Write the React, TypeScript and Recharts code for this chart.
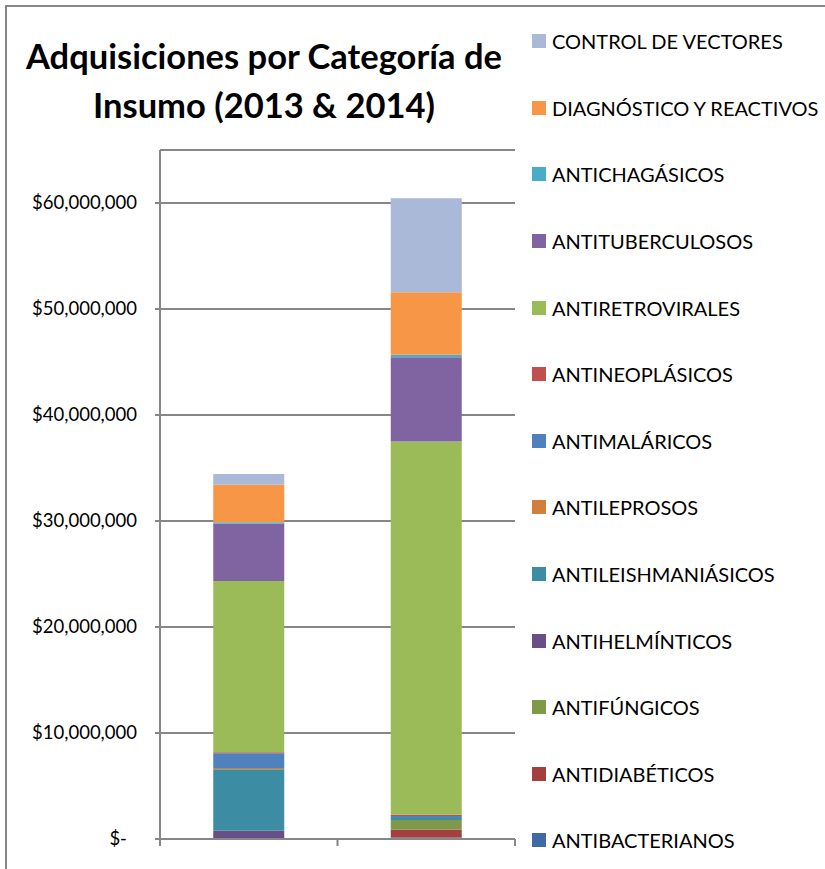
import React from "react";
import { BarChart, Bar, XAxis, YAxis, CartesianGrid } from "recharts";

const years = ["2013", "2014"];

// values in US$, bottom of the stack first
const antibacterianos = [0, 150000];
const antidiabeticos = [0, 750000];
const antifungicos = [0, 900000];
const antihelminticos = [780000, 0];
const antileishmaniasicos = [5800000, 180000];
const antileprosos = [120000, 0];
const antimalaricos = [1380000, 180000];
const antineoplasicos = [100000, 130000];
const antiretrovirales = [16150000, 35200000];
const antituberculosos = [5400000, 7950000];
const antichagasicos = [150000, 250000];
const diagnostico = [3550000, 5880000];
const controlVectores = [1000000, 8870000];

const yTicks = [0, 10000000, 20000000, 30000000, 40000000, 50000000, 60000000];
// category boundaries on the x axis (tick marks between the bars)
const edgeTicks = [0, 1, 2];

const series = [
  { name: "ANTIBACTERIANOS", values: antibacterianos, color: "#3F6AA3" },
  { name: "ANTIDIABÉTICOS", values: antidiabeticos, color: "#A33F3C" },
  { name: "ANTIFÚNGICOS", values: antifungicos, color: "#7E9A48" },
  { name: "ANTIHELMÍNTICOS", values: antihelminticos, color: "#684F86" },
  { name: "ANTILEISHMANIÁSICOS", values: antileishmaniasicos, color: "#3C8DA3" },
  { name: "ANTILEPROSOS", values: antileprosos, color: "#D0803B" },
  { name: "ANTIMALÁRICOS", values: antimalaricos, color: "#4F81BD" },
  { name: "ANTINEOPLÁSICOS", values: antineoplasicos, color: "#C0504D" },
  { name: "ANTIRETROVIRALES", values: antiretrovirales, color: "#9BBB59" },
  { name: "ANTITUBERCULOSOS", values: antituberculosos, color: "#8064A2" },
  { name: "ANTICHAGÁSICOS", values: antichagasicos, color: "#4BACC6" },
  { name: "DIAGNÓSTICO Y REACTIVOS", values: diagnostico, color: "#F79646" },
  { name: "CONTROL DE VECTORES", values: controlVectores, color: "#A9B9D7" },
];

const data = years.map((year, i) => {
  const row: Record<string, string | number> = { year, edge: i + 0.5 };
  series.forEach((s) => {
    row[s.name] = s.values[i];
  });
  return row;
});

const FONT = "Lato, 'Open Sans', sans-serif";
const GRAY = "#878787";

const money = (v: number) => "$" + v.toLocaleString("en-US");

const YTick = (props: any) => {
  const { x, y, payload } = props;
  const v = payload.value as number;
  return (
    <text
      x={v === 0 ? x - 10 : x}
      y={y}
      dy={6}
      textAnchor="end"
      fontFamily={FONT}
      fontSize={18.5}
      fill="#000"
    >
      {v === 0 ? "$-" : money(v)}
    </text>
  );
};

export default function App() {
  return (
    <div
      style={{
        position: "absolute",
        left: 0,
        top: 0,
        width: 825,
        height: 869,
        background: "#fff",
        fontFamily: FONT,
        overflow: "hidden",
      }}
    >
      <div
        style={{
          position: "absolute",
          left: 5,
          top: 5,
          width: 830,
          height: 880,
          borderLeft: `2px solid ${GRAY}`,
          borderTop: `2px solid ${GRAY}`,
        }}
      />
      <div
        style={{
          position: "absolute",
          left: 4,
          top: 31,
          width: 520,
          textAlign: "center",
          fontWeight: 700,
          fontSize: 34.5,
          lineHeight: "49px",
          color: "#000",
        }}
      >
        Adquisiciones por Categoría de
        <br />
        Insumo (2013 &amp; 2014)
      </div>
      <div style={{ position: "absolute", left: 532, top: 8 }}>
        {[...series].reverse().map((s) => (
          <div
            key={s.name}
            style={{
              display: "flex",
              alignItems: "center",
              height: 66.6,
              fontSize: 20,
              color: "#000",
              whiteSpace: "nowrap",
            }}
          >
            <span
              style={{
                display: "inline-block",
                width: 14,
                height: 14,
                background: s.color,
                marginRight: 6,
              }}
            />
            {s.name}
          </div>
        ))}
      </div>
      <div style={{ position: "absolute", left: 0, top: 0 }}>
        <BarChart
          width={825}
          height={869}
          data={data}
          margin={{ top: 150, right: 310, bottom: 18, left: 0 }}
          barCategoryGap="30%"
        >
          <CartesianGrid
            vertical={false}
            stroke={GRAY}
            strokeWidth={2}
          />
          <XAxis xAxisId={0} dataKey="year" hide height={0} />
          <XAxis
            xAxisId="edges"
            dataKey="edge"
            type="number"
            domain={[0, 2]}
            ticks={edgeTicks}
            interval={0}
            tickFormatter={() => ""}
            tickSize={7}
            height={12}
            axisLine={{ stroke: GRAY, strokeWidth: 2 }}
            tickLine={{ stroke: GRAY, strokeWidth: 2 }}
          />
          <YAxis
            width={160}
            domain={[0, 65000000]}
            ticks={yTicks}
            interval={0}
            tickSize={5}
            tickMargin={18}
            tick={<YTick />}
            axisLine={{ stroke: GRAY, strokeWidth: 2 }}
            tickLine={{ stroke: GRAY, strokeWidth: 2 }}
          />
          {series.map((s) => (
            <Bar
              key={s.name}
              dataKey={s.name}
              stackId="a"
              fill={s.color}
              isAnimationActive={false}
            />
          ))}
        </BarChart>
      </div>
    </div>
  );
}
